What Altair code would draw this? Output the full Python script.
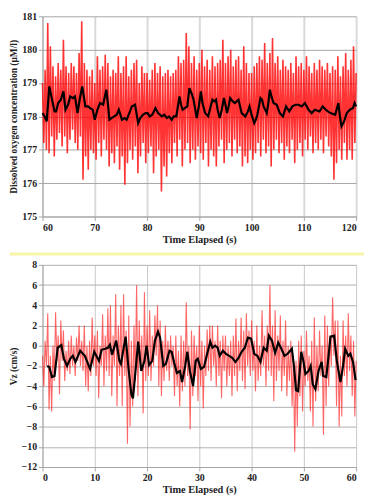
import altair as alt
import pandas as pd

# ---------------- Top panel: dissolved oxygen (60-120 s) ----------------
# raw signal, read as alternating local highs (every 0.5 s from 60) and lows (every 0.5 s from 60.25)
do_high = [179.0, 179.4, 180.8, 180.1, 179.5, 179.2, 179.6, 179.4, 180.3, 179.5,
           179.3, 179.6, 179.5, 179.3, 179.9, 180.85, 179.6, 179.4, 179.2, 179.4,
           179.0, 179.8, 179.4, 179.5, 179.85, 179.6, 179.2, 179.4, 179.3, 179.8,
           179.3, 179.5, 179.8, 179.2, 179.4, 179.6, 179.7, 179.0, 179.5, 179.3,
           179.3, 179.1, 179.4, 179.6, 179.3, 179.5, 179.2, 179.3, 179.4, 179.2,
           179.3, 179.4, 179.8, 179.6, 179.7, 180.5, 180.1, 179.6, 179.8, 179.4,
           179.6, 180.0, 179.5, 179.7, 179.4, 179.8, 179.5, 179.6, 179.7, 180.3,
           179.6, 179.8, 180.0, 179.5, 179.7, 179.8, 179.4, 180.1, 179.6, 179.3,
           179.3, 179.5, 179.6, 179.8, 179.7, 180.2, 179.6, 179.9, 180.35, 179.6,
           179.8, 179.4, 179.7, 179.5, 179.4, 179.6, 179.3, 179.8, 179.5, 179.6,
           179.4, 179.8, 179.5, 179.3, 179.6, 179.4, 179.7, 179.5, 179.4, 179.6,
           179.3, 179.5, 179.4, 179.8, 179.2, 179.5, 179.9, 179.4, 179.7, 180.1,
           179.3]
do_low = [177.2, 177.0, 176.9, 177.4, 176.8, 177.3, 177.5, 177.1, 177.4, 176.9,
          177.3, 177.6, 177.2, 177.0, 177.4, 176.1, 176.8, 176.4, 177.0, 176.9,
          176.7, 177.2, 176.8, 177.3, 177.0, 176.5, 176.9, 176.6, 177.1, 176.4,
          176.8, 175.95, 176.6, 177.0, 176.7, 177.1, 176.3, 176.8, 177.2, 176.6,
          176.9, 177.1, 176.3, 176.8, 177.0, 175.75, 176.5, 176.2, 176.9, 176.6,
          177.2, 176.8, 177.3, 176.5, 177.0, 177.2, 176.6, 177.0, 176.7, 177.1,
          176.9, 176.7, 177.2, 176.5, 177.0, 176.8, 176.5, 177.1, 177.3, 176.6,
          177.0, 177.2, 176.8, 177.3, 176.9, 177.1, 176.5, 176.8, 176.6, 177.0,
          176.7, 176.9, 177.2, 176.8, 177.3, 176.9, 177.1, 176.5, 177.0, 177.3,
          176.9, 177.2, 176.7, 177.1, 176.9, 177.3, 176.6, 177.0, 177.2, 176.8,
          177.3, 177.0, 177.4, 176.9, 177.2, 177.0, 177.3, 176.9, 177.4, 177.1,
          176.8, 176.1, 176.6, 177.0, 176.7, 177.2, 176.7, 177.0, 176.7, 177.2]
# smoothed (moving average) curve
do_smooth_t = [60.0, 60.4, 60.8, 61.3, 61.7, 62.3, 62.6, 63.0, 63.5, 64.0, 64.4, 64.9, 65.3, 65.8,
               66.2, 66.7, 67.1, 67.6, 68.2, 68.7, 69.1, 69.6, 70.0, 70.5, 71.0, 71.6, 72.2, 72.5,
               72.8, 73.2, 73.7, 74.2, 74.6, 75.2, 75.7, 76.1, 76.6, 77.1, 77.7, 78.3, 78.7, 79.2,
               79.7, 80.1, 80.5, 81.0, 81.6, 82.1, 82.5, 82.8, 83.3, 83.8, 84.2, 84.7, 85.1, 85.6,
               85.9, 86.2, 86.5, 86.8, 87.2, 87.7, 88.1, 88.6, 88.9, 89.5, 89.9, 90.3, 90.6, 91.1,
               91.7, 92.1, 92.5, 92.9, 93.2, 93.5, 93.9, 94.3, 94.7, 95.0, 95.3, 95.6, 95.9, 96.4,
               96.8, 97.5, 97.8, 98.1, 98.8, 99.3, 99.6, 100.0, 100.5, 100.8, 101.1, 101.4, 101.7,
               102.0, 102.3, 102.6, 102.9, 103.2, 103.5, 103.8, 104.2, 104.8, 105.4, 106.0, 106.6,
               107.2, 107.8, 108.4, 109.0, 109.6, 110.2, 110.9, 111.5, 112.1, 113.0, 113.6, 114.2,
               114.6, 115.1, 116.0, 116.6, 116.9, 117.2, 117.7, 118.2, 118.8, 119.4, 119.7, 120.0]
do_smooth_v = [178.1, 178.0, 177.85, 178.9, 178.6, 178.15, 178.15, 178.4, 178.5, 178.75, 178.2,
               178.35, 178.6, 178.55, 178.6, 178.1, 178.5, 178.9, 178.3, 178.3, 178.25, 178.2,
               177.9, 178.2, 178.4, 178.35, 178.8, 178.4, 177.9, 177.95, 178.0, 178.05, 178.2,
               177.9, 177.95, 177.9, 178.1, 178.3, 178.35, 177.8, 177.95, 178.05, 178.1, 178.1,
               178.0, 178.05, 178.25, 178.1, 178.05, 178.0, 178.05, 177.95, 178.0, 177.9, 178.0,
               178.0, 178.3, 178.6, 178.35, 178.2, 178.25, 178.3, 178.85, 178.65, 178.5, 177.95,
               178.3, 178.75, 178.4, 178.1, 178.0, 178.25, 178.5, 178.45, 178.5, 178.2, 177.95,
               178.2, 178.55, 178.35, 178.1, 178.3, 178.55, 178.45, 178.4, 178.5, 178.3, 178.1,
               178.0, 178.15, 178.3, 178.05, 177.8, 177.9, 178.05, 178.3, 178.55, 178.5, 178.3,
               178.2, 178.1, 178.4, 178.8, 178.6, 178.4, 178.35, 178.1, 178.0, 178.3, 178.15,
               178.3, 178.35, 178.35, 178.3, 178.4, 178.2, 178.1, 178.2, 178.15, 178.3, 178.2,
               178.15, 178.1, 178.05, 178.4, 178.0, 177.7, 177.85, 178.1, 178.2, 178.25, 178.4,
               178.3]

# ---------------- Bottom panel: Vz (0-60 s) ----------------
vz_high = [-1.0, 0.5, 3.2, -1.0, 0.0, 3.3, 1.0, 2.5, 1.5, -0.5,
           0.5, 1.0, 0.0, 0.8, 2.0, 0.5, 2.0, 0.0, 0.5, 2.8,
           1.0, 1.5, 0.0, 3.1, 1.0, 3.7, 4.0, 1.0, 5.1, 2.0,
           4.0, 5.1, 1.5, 3.0, 0.5, 2.0, 6.0, 2.5, 1.0, 5.3,
           2.0, 3.5, 1.0, 3.0, 4.0, 2.5, 0.5, 2.0, 0.5, 1.0,
           0.0, 1.0, -0.5, 1.0, 0.5, 4.3, 0.0, 1.5, 1.0, 0.0,
           2.0, 0.5, 0.0, 1.6, 2.0, 2.0, 0.5, 2.0, 0.5, 1.0,
           1.0, 0.0, 0.5, 1.0, 2.7, 0.5, 2.8, 1.5, 3.2, 1.5,
           2.5, 0.5, 2.0, 0.0, 3.5, 1.0, 2.0, 6.0, 2.0, 3.5,
           1.0, 3.0, 0.5, 2.5, 0.0, 0.5, -1.0, -1.5, 0.5, 1.0,
           -0.5, 1.5, -1.0, 0.5, 2.8, 0.0, 1.5, 0.0, 3.0, 2.0,
           1.0, 4.8, 2.5, 2.5, -1.0, 2.5, 1.0, 3.2, 1.0, 0.5,
           -1.5]
vz_low = [-4.0, -2.0, -6.3, -6.5, -3.5, -1.5, -4.8, -1.5, -3.5, -2.5,
          -2.8, -2.0, -3.0, -1.5, -2.0, -2.5, -4.0, -4.5, -3.0, -2.0,
          -3.0, -5.2, -2.0, -4.0, -2.5, -3.0, -5.0, -2.0, -6.0, -3.0,
          -6.0, -3.0, -9.7, -8.0, -6.0, -3.5, -5.0, -2.5, -6.7, -3.5,
          -3.0, -3.5, -2.0, -1.0, -4.0, -5.0, -3.5, -2.5, -3.5, -2.0,
          -5.0, -4.0, -6.0, -4.5, -4.0, -3.0, -8.3, -5.0, -3.0, -5.5,
          -4.0, -6.2, -3.0, -2.5, -3.5, -2.0, -4.0, -3.0, -5.2, -2.5,
          -4.0, -3.0, -5.0, -3.0, -4.5, -2.5, -3.5, -4.3, -2.0, -3.0,
          -2.5, -4.5, -3.5, -3.0, -2.0, -4.0, -2.5, -3.0, -5.5, -3.5,
          -2.5, -4.5, -3.0, -5.0, -3.5, -6.0, -10.5, -8.0, -5.0, -6.5,
          -4.0, -3.5, -6.5, -8.0, -5.5, -4.5, -3.0, -8.8, -6.0, -4.0,
          -2.0, -1.0, -6.0, -8.0, -7.0, -3.0, -4.0, -2.5, -5.0, -7.0]
vz_smooth_t = [0.9, 1.3, 1.8, 2.3, 2.9, 3.6, 4.1, 4.7, 5.3, 5.8, 6.3, 7.2, 8.1, 9.1, 9.9, 10.8,
               11.3, 12.0, 12.5, 12.9, 13.3, 14.1, 14.7, 15.0, 15.9, 16.5, 17.0, 17.3, 17.7, 18.3,
               18.9, 19.5, 19.9, 20.4, 21.0, 21.5, 22.1, 22.5, 23.1, 23.6, 24.3, 24.7, 25.2, 25.7,
               26.3, 26.7, 27.3, 27.7, 28.2, 28.8, 29.3, 29.7, 30.3, 30.9, 31.5, 32.1, 32.5, 33.0,
               33.5, 33.9, 34.5, 35.1, 35.7, 36.3, 36.9, 37.5, 38.1, 38.7, 39.3, 39.9, 40.5, 41.1,
               41.7, 42.3, 42.9, 43.3, 43.9, 44.5, 45.1, 45.7, 46.3, 46.9, 47.7, 48.1, 48.5, 48.9,
               49.5, 49.9, 50.3, 50.9, 51.3, 51.7, 52.2, 52.8, 53.4, 53.7, 54.3, 55.1, 55.8, 56.3,
               57.0, 57.5, 57.9, 58.5, 58.9, 59.4, 59.9]
vz_smooth_v = [-2.0, -2.1, -3.1, -3.0, -0.2, 0.05, -1.3, -2.0, -1.3, -1.0, -1.6, -0.5, -1.0,
               -2.3, -0.6, -1.5, -0.4, -0.3, -0.2, 0.1, -0.9, 0.5, -1.5, -1.8, 0.9, -2.5, -4.8,
               -5.2, -3.0, 0.4, -2.5, -1.5, 0.0, -1.9, -1.5, 0.5, 1.4, 0.8, -2.0, -1.8, -0.5,
               -0.6, -1.7, -2.7, -2.5, -3.6, -2.0, -0.6, -2.5, -4.0, -1.5, -1.3, -2.3, -2.1,
               -0.8, 0.4, -0.2, 0.0, -0.2, -1.0, -0.5, -0.8, -1.0, -1.2, -1.6, -1.2, -0.6, -0.2,
               0.8, 0.7, -0.8, -1.0, -1.6, -0.2, -0.5, 1.0, 0.5, -0.7, 0.3, -0.3, -1.0, -0.8,
               -0.3, -2.0, -4.4, -4.5, -0.6, -1.5, -2.8, -2.5, -2.0, -3.8, -4.3, -2.5, -1.6,
               -3.0, -3.1, 0.9, 1.0, -1.5, -3.6, -2.0, -0.3, -1.0, -0.8, -1.6, -3.4]

do_ticks_x = [60, 70, 80, 90, 100, 110, 120]
do_ticks_y = [175, 176, 177, 178, 179, 180, 181]
vz_ticks_x = [0, 10, 20, 30, 40, 50, 60]
vz_ticks_y = [-12, -10, -8, -6, -4, -2, 0, 2, 4, 6, 8]


def zigzag(highs, lows, t0, step):
    t = [t0 + step * i for i in range(len(highs))] + [t0 + step / 2 + step * i for i in range(len(lows))]
    v = list(highs) + list(lows)
    df = pd.DataFrame({"t": t, "v": v}).sort_values("t")
    return df


do_raw = zigzag(do_high, do_low, 60.0, 0.5)
do_avg = pd.DataFrame({"t": do_smooth_t, "v": do_smooth_v})
vz_raw = zigzag(vz_high, vz_low, 0.0, 0.5)
vz_avg = pd.DataFrame({"t": vz_smooth_t, "v": vz_smooth_v})

FONT = "Liberation Serif"
W = 318


def panel(raw, avg, xdom, ydom, xt, yt, ytitle, h, vgrid, vgw, hgrid, red_op, red_w):
    xa = alt.Axis(values=xt, tickCount=len(xt), labelOverlap=False,
                  title="Time Elapsed (s)", grid=True, gridColor=vgrid, gridWidth=vgw,
                  domainColor="#a6a6a6", tickColor="#a6a6a6", tickSize=4, labelPadding=2,
                  labelFont=FONT, labelFontSize=10, labelFontWeight="bold", labelColor="#222",
                  titleFont=FONT, titleFontSize=10.5, titleFontWeight="bold", titleColor="#222",
                  titlePadding=2)
    ya = alt.Axis(values=yt, tickCount=len(yt), labelOverlap=False,
                  title=ytitle, grid=True, gridColor=hgrid, gridWidth=1,
                  domainColor="#a6a6a6", tickColor="#a6a6a6", tickSize=4, labelPadding=2,
                  labelFont=FONT, labelFontSize=10, labelFontWeight="bold", labelColor="#222",
                  titleFont=FONT, titleFontSize=9.5, titleFontWeight="bold", titleColor="#222",
                  titlePadding=3)
    x = alt.X("t:Q", scale=alt.Scale(domain=xdom, nice=False, zero=False), axis=xa)
    y = alt.Y("v:Q", scale=alt.Scale(domain=ydom, nice=False, zero=False), axis=ya)
    red = alt.Chart(raw).mark_line(color="#ff0000", strokeWidth=red_w, opacity=red_op).encode(x=x, y=y)
    blk = alt.Chart(avg).mark_line(color="#000000", strokeWidth=2.2).encode(x=x, y=y)
    return alt.layer(red, blk).properties(width=W, height=h)


top = panel(do_raw, do_avg, [60, 120], [175, 181], do_ticks_x, do_ticks_y,
            "Dissolved oxygen concentration (µM/l)", 203, "#d9d9d9", 2, "#a6a6a6", 0.8, 1.6)
sep = alt.Chart(pd.DataFrame({"a": [0]})).mark_rule(color="#f8f4a8", strokeWidth=3).encode(
    x=alt.value(-33), x2=alt.value(W + 8), y=alt.value(241))
top = alt.layer(top, sep)

bottom = panel(vz_raw, vz_avg, [0, 60], [-12, 8], vz_ticks_x, vz_ticks_y,
               "Vz (cm/s)", 205, "#c8c8c8", 1, "#b0b0b0", 0.6, 1.1)

chart = alt.vconcat(top, bottom, spacing=4).properties(padding=0).configure_view(strokeWidth=0)
chart.save("out.html", embed_options={"renderer": "svg", "actions": False})
